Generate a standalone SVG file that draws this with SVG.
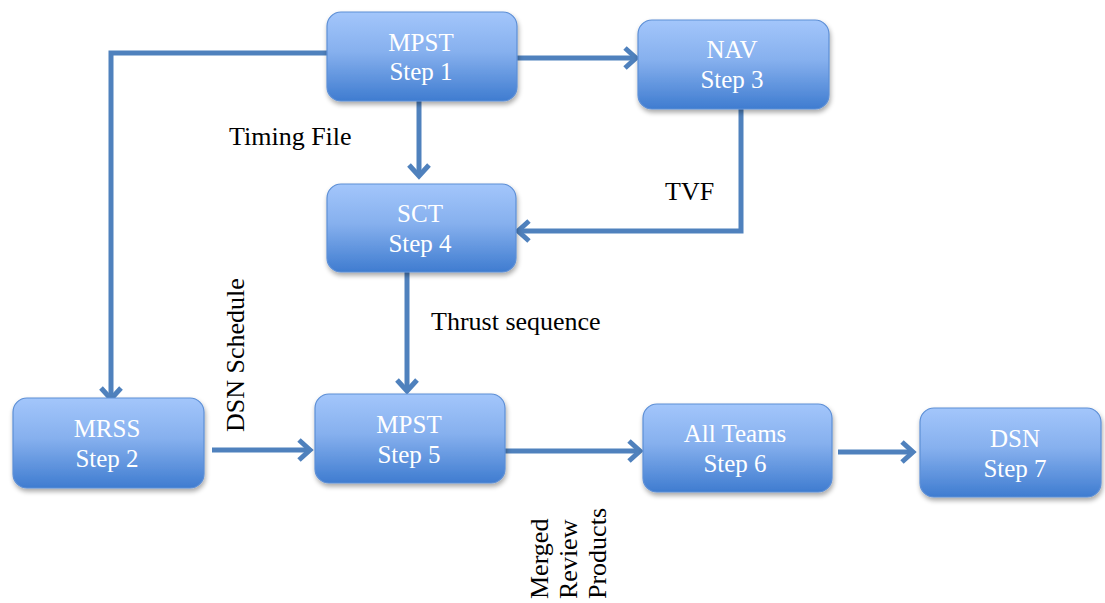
<svg xmlns="http://www.w3.org/2000/svg" width="1105" height="603" viewBox="0 0 1105 603">
<style>
.box{fill:url(#g);stroke:#5d8fd6;stroke-width:1.2}
.nt{font-family:'Liberation Serif','DejaVu Serif',serif;font-size:25px;fill:#ffffff;text-anchor:middle}
.lb{font-family:'Liberation Serif','DejaVu Serif',serif;font-size:26px;fill:#000000}
.cn{fill:none;stroke:#4f81bd;stroke-width:5;marker-end:url(#arr)}
</style>
<defs>
<linearGradient id="g" x1="0" y1="0" x2="0" y2="1">
<stop offset="0" stop-color="#a3c6fb"/>
<stop offset="0.45" stop-color="#86b0ee"/>
<stop offset="1" stop-color="#3f7cd0"/>
</linearGradient>
<filter id="sh" x="-10%" y="-10%" width="125%" height="135%">
<feGaussianBlur in="SourceAlpha" stdDeviation="2.5"/>
<feOffset dx="1" dy="3" result="b"/>
<feComponentTransfer><feFuncA type="linear" slope="0.35"/></feComponentTransfer>
<feMerge><feMergeNode/><feMergeNode in="SourceGraphic"/></feMerge>
</filter>
<marker id="arr" markerUnits="userSpaceOnUse" markerWidth="30" markerHeight="30" viewBox="-15 -15 30 30" refX="0" refY="0" orient="auto">
<path d="M-11,-10 L0,0 L-11,10" fill="none" stroke="#4f81bd" stroke-width="5"/>
</marker>
</defs>
<rect width="1105" height="603" fill="#ffffff"/>
<g id="connectors">
<path class="cn" d="M517,58 L636,58"/>
<path class="cn" d="M327,53 L111,53 L111,399"/>
<path class="cn" d="M419,101 L419,176"/>
<path class="cn" d="M741,109 L741,231 L518,231"/>
<path class="cn" d="M407,272 L407,391"/>
<path class="cn" d="M212,450 L310,450"/>
<path class="cn" d="M505,451 L640,451"/>
<path class="cn" d="M838,452 L913,452"/>
</g>
<g id="n1"><rect class="box" filter="url(#sh)" x="327" y="12" width="190" height="89" rx="14"/><text class="nt" x="421" y="51">MPST</text><text class="nt" x="421" y="80">Step 1</text></g>
<g id="n3"><rect class="box" filter="url(#sh)" x="638" y="20" width="191" height="89" rx="14"/><text class="nt" x="732" y="58">NAV</text><text class="nt" x="732" y="88">Step 3</text></g>
<g id="n4"><rect class="box" filter="url(#sh)" x="327" y="184" width="189" height="88" rx="14"/><text class="nt" x="420" y="222">SCT</text><text class="nt" x="420" y="252">Step 4</text></g>
<g id="n2"><rect class="box" filter="url(#sh)" x="13" y="398" width="191" height="90" rx="14"/><text class="nt" x="107" y="437">MRSS</text><text class="nt" x="107" y="467">Step 2</text></g>
<g id="n5"><rect class="box" filter="url(#sh)" x="315" y="394" width="190" height="89" rx="14"/><text class="nt" x="409" y="433">MPST</text><text class="nt" x="409" y="463">Step 5</text></g>
<g id="n6"><rect class="box" filter="url(#sh)" x="643" y="404" width="189" height="88" rx="14"/><text class="nt" x="735" y="442">All Teams</text><text class="nt" x="735" y="472">Step 6</text></g>
<g id="n7"><rect class="box" filter="url(#sh)" x="920" y="408" width="181" height="89" rx="14"/><text class="nt" x="1015" y="447">DSN</text><text class="nt" x="1015" y="477">Step 7</text></g>
<g id="labels">
<text class="lb" x="229" y="145">Timing File</text>
<text class="lb" x="665" y="200">TVF</text>
<text class="lb" x="431" y="330">Thrust sequence</text>
<text class="lb" transform="translate(244,432) rotate(-90)">DSN Schedule</text>
<text class="lb" transform="translate(548,599) rotate(-90)">Merged</text>
<text class="lb" transform="translate(577,599) rotate(-90)">Review</text>
<text class="lb" transform="translate(606,599) rotate(-90)">Products</text>
</g>
</svg>
